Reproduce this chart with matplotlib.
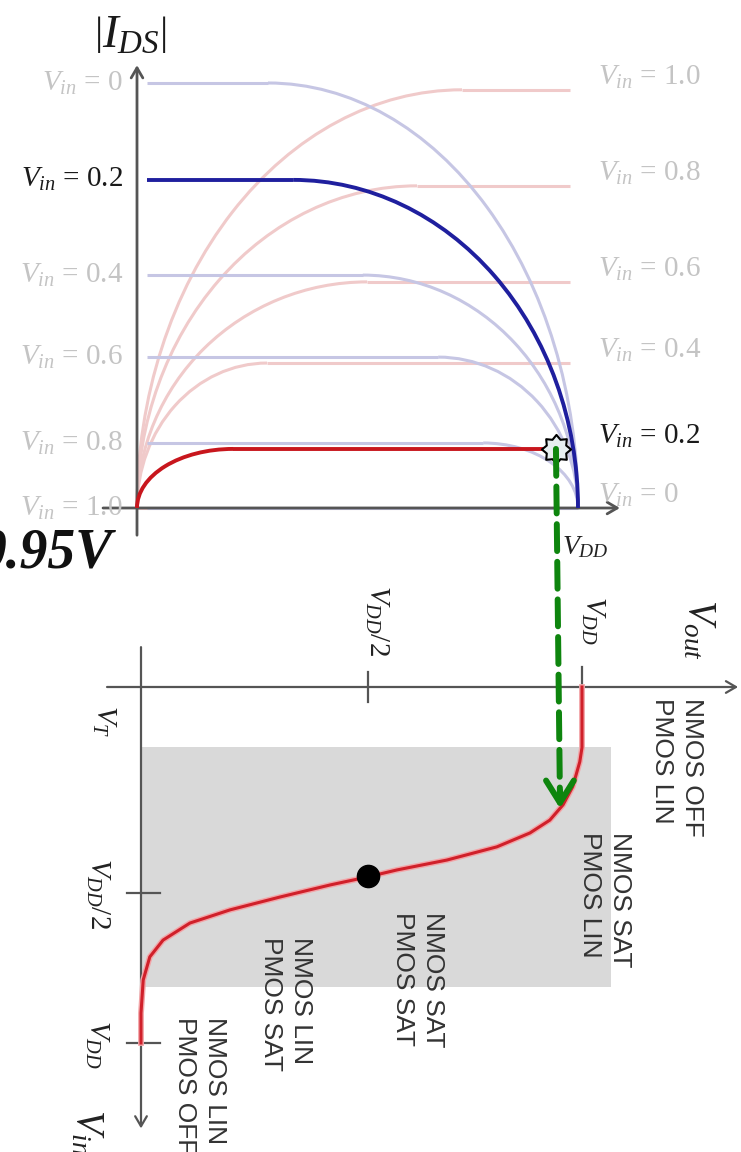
import numpy as np
import matplotlib
matplotlib.use("Agg")
import matplotlib.pyplot as plt
from matplotlib.patches import Arc, Rectangle, ConnectionPatch
from matplotlib.path import Path

plt.rcParams['mathtext.fontset'] = 'custom'
plt.rcParams['mathtext.rm'] = 'Liberation Serif'
plt.rcParams['mathtext.it'] = 'Liberation Serif:italic'
plt.rcParams['mathtext.bf'] = 'Liberation Serif:bold'

# ---- I-V families (VDD = 1, currents normalised) ----
pmos_vin = [0.0, 0.2, 0.4, 0.6, 0.8, 1.0]
pmos_isat = [1.0, 0.772, 0.548, 0.355, 0.153, 0.0]
pmos_vov = [0.703, 0.646, 0.488, 0.317, 0.215, 0.0]

nmos_vin = [1.0, 0.8, 0.6, 0.4, 0.2, 0.0]
nmos_isat = [0.984, 0.758, 0.532, 0.341, 0.139, 0.0]
nmos_vov = [0.737, 0.635, 0.522, 0.295, 0.218, 0.0]

vin_highlight = 0.2
vout_op = 0.95

# ---- inverter transfer curve ----
vtc_vin = [0.00, 0.10, 0.17, 0.21, 0.28, 0.331, 0.374, 0.410, 0.449, 0.486,
           0.514, 0.534, 0.556, 0.590, 0.626, 0.663, 0.711, 0.758, 0.823,
           0.916, 1.00]
vtc_vout = [1.00, 1.00, 1.00, 0.995, 0.979, 0.957, 0.927, 0.882, 0.807, 0.694,
            0.580, 0.512, 0.429, 0.315, 0.202, 0.111, 0.050, 0.020, 0.005,
            0.0, 0.0]
switch_vin = 0.531

vin_ticks = [0.169, 0.579, 1.0]
vin_tick_labels = [r'$V_T$', r'$V_{DD}/2$', r'$V_{DD}$']
vout_ticks = [0.515, 1.0]
vout_tick_labels = [r'$V_{DD}/2$', r'$V_{DD}$']
shade_vin = (0.169, 0.843)
shade_vout = (0.0, 1.066)
region_labels = ['NMOS OFF\nPMOS LIN', 'NMOS SAT\nPMOS LIN', 'NMOS SAT\nPMOS SAT',
                 'NMOS LIN\nPMOS SAT', 'NMOS LIN\nPMOS OFF']

LIGHT_BLUE = '#c6c6e4'
LIGHT_RED = '#f0caca'
DARK_BLUE = '#1f1f9e'
DARK_RED = '#c8161d'
AXIS = '#555555'
FAINT_TXT = '#c4c4c4'
GREEN = '#0e850e'

fig = plt.figure(figsize=(7.41, 11.52), dpi=100)
ax1 = fig.add_axes([0, 592 / 1152, 1, 560 / 1152])
ax2 = fig.add_axes([0, 0, 1, 592 / 1152])
ax1.set_xlim(-137 / 441, 604 / 441)
ax1.set_ylim(-52 / 425, 508 / 425)
ax2.set_xlim(-141 / 441, 600 / 441)
ax2.set_ylim(465 / 356, -127 / 356)
for a in (ax1, ax2):
    a.axis('off')


def fmt(v):
    return '0' if v == 0 else f'{v:.1f}'


# ---------- top: |IDS| vs Vout ----------
def pmos_curve(ax, isat, vov, color, lw, z):
    if isat == 0:
        ax.plot([0.023, 1.0], [0, 0], color=color, lw=lw, zorder=z,
                solid_capstyle='butt')
        return
    ax.plot([0.023, 1 - vov], [isat, isat], color=color, lw=lw, zorder=z,
            solid_capstyle='butt')
    ax.add_patch(Arc((1 - vov, 0), 2 * vov, 2 * isat, theta1=0, theta2=90,
                     color=color, lw=lw, zorder=z))


def nmos_curve(ax, isat, vov, xend, color, lw, z):
    if isat == 0:
        ax.plot([0, xend], [0, 0], color=color, lw=lw, zorder=z,
                solid_capstyle='butt')
        return
    ax.add_patch(Arc((vov, 0), 2 * vov, 2 * isat, theta1=90, theta2=180,
                     color=color, lw=lw, zorder=z))
    ax.plot([vov, xend], [isat, isat], color=color, lw=lw, zorder=z,
            solid_capstyle='butt')


for v, i, w in zip(nmos_vin, nmos_isat, nmos_vov):
    if v != vin_highlight:
        nmos_curve(ax1, i, w, 0.982, LIGHT_RED, 2.2, 2)
for v, i, w in zip(pmos_vin, pmos_isat, pmos_vov):
    if v != vin_highlight:
        pmos_curve(ax1, i, w, LIGHT_BLUE, 2.2, 2)

i_hi_n = nmos_isat[nmos_vin.index(vin_highlight)]
nmos_curve(ax1, i_hi_n, nmos_vov[nmos_vin.index(vin_highlight)], vout_op,
           DARK_RED, 2.8, 4)
pmos_curve(ax1, pmos_isat[pmos_vin.index(vin_highlight)],
           pmos_vov[pmos_vin.index(vin_highlight)], DARK_BLUE, 2.8, 4)

# axes with arrows
ax1.annotate('', xy=(0, 1.042), xytext=(0, -0.064),
             arrowprops=dict(arrowstyle='->,head_length=0.6,head_width=0.35',
                             color=AXIS, lw=2, shrinkA=0, shrinkB=0,
                             mutation_scale=12), zorder=3)
ax1.annotate('', xy=(1.095, 0), xytext=(-0.077, 0),
             arrowprops=dict(arrowstyle='->,head_length=0.6,head_width=0.35',
                             color=AXIS, lw=2, shrinkA=0, shrinkB=0,
                             mutation_scale=12), zorder=3)

# curve labels
for v, i in zip(pmos_vin, pmos_isat):
    c = '#1a1a1a' if v == vin_highlight else FAINT_TXT
    ax1.text(-0.032, i, rf'$V_{{in}}$ = {fmt(v)}', ha='right', va='center',
             fontsize=21, color=c, family='Liberation Serif')
for v, i in zip(nmos_vin, nmos_isat):
    c = '#1a1a1a' if v == vin_highlight else FAINT_TXT
    ax1.text(1.045, i + 0.03, rf'$V_{{in}}$ = {fmt(v)}', ha='left', va='center',
             fontsize=21, color=c, family='Liberation Serif')

ax1.text(-0.016, 1.113, r'$\left|I_{DS}\right|$', ha='center', va='center',
         fontsize=34, color='#1a1a1a')
ax1.text(1.016, -0.089, r'$V_{DD}$', ha='center', va='center', fontsize=20,
         color='#222222')
ax1.text(-0.057, -0.106, '0.95V', ha='right', va='center', fontsize=40,
         family='Liberation Serif', weight='bold', style='italic',
         color='#111111', clip_on=False)

# operating point
star = Path.unit_regular_star(8, 0.72)
ax1.plot([vout_op], [i_hi_n], marker=star, ms=21, mfc='#e6eef0', mec='black',
         mew=1.5, zorder=6)

# ---------- bottom: transfer characteristic ----------
ax2.add_patch(Rectangle((shade_vout[0], shade_vin[0]),
                        shade_vout[1] - shade_vout[0], shade_vin[1] - shade_vin[0],
                        facecolor='#d9d9d9', edgecolor='none', zorder=0))

ax2.annotate('', xy=(1.354, 0), xytext=(-0.077, 0),
             arrowprops=dict(arrowstyle='->,head_length=0.6,head_width=0.35',
                             color=AXIS, lw=1.6, shrinkA=0, shrinkB=0,
                             mutation_scale=12), zorder=3)
ax2.annotate('', xy=(0, 1.24), xytext=(0, -0.112),
             arrowprops=dict(arrowstyle='->,head_length=0.6,head_width=0.35',
                             color=AXIS, lw=1.6, shrinkA=0, shrinkB=0,
                             mutation_scale=12), zorder=3)

# ticks
for t in vin_ticks[1:]:
    ax2.plot([-0.032, 0.043], [t, t], color=AXIS, lw=1.6, zorder=3)
ax2.plot([vout_ticks[0]] * 2, [-0.042, 0.042], color=AXIS, lw=1.6, zorder=3)
ax2.plot([vout_ticks[1]] * 2, [-0.056, 0.0], color=AXIS, lw=1.6, zorder=3)

# tick labels
vin_offsets = [(-27, 7, 'bottom'), (-31, 0, 'center'), (-32, -1, 'center')]
for t, lab, (dx, dy, va) in zip(vin_ticks, vin_tick_labels, vin_offsets):
    ax2.annotate(lab, xy=(0, t), xytext=(dx, dy), textcoords='offset points',
                 rotation=-90, ha='center', va=va, fontsize=21, color='#222222')
vout_offsets = [(6.5, 48), (8, 48)]
for t, lab, (dx, dy) in zip(vout_ticks, vout_tick_labels, vout_offsets):
    ax2.annotate(lab, xy=(t, 0), xytext=(dx, dy), textcoords='offset points',
                 rotation=-90, ha='center', va='center', fontsize=21,
                 color='#222222')

ax2.text(1.268, -0.16, r'$V_{out}$', rotation=-90, ha='center', va='center',
         fontsize=28, color='#222222')
ax2.text(-0.12, 1.25, r'$V_{in}$', rotation=-90, ha='center', va='center',
         fontsize=28, color='#222222', clip_on=False)

# transfer curve and switching point
ax2.plot(vtc_vout, vtc_vin, color='#f2a5a8', lw=4.2, zorder=4,
         solid_joinstyle='round')
ax2.plot(vtc_vout, vtc_vin, color='#d0202a', lw=2.2, zorder=5,
         solid_joinstyle='round')
ax2.plot([vout_ticks[0]], [switch_vin], 'o', ms=16, color='black', zorder=6)

# operating-region annotations
region_pos = [(1.215, 0.031), (1.052, 0.407), (0.628, 0.632),
              (0.329, 0.702), (0.134, 0.927)]
for lab, (x, y) in zip(region_labels, region_pos):
    ax2.text(x, y, lab, rotation=-90, ha='center', va='top',
             multialignment='left', fontsize=19, color='#333333',
             family='Liberation Sans', linespacing=1.32)

# projection from the operating point onto the transfer curve
vin_tip = np.interp(vout_op, vtc_vout[::-1], vtc_vin[::-1])
con = ConnectionPatch(xyA=(vout_op, i_hi_n), coordsA=ax1.transData,
                      xyB=(vout_op, vin_tip - 0.03), coordsB=ax2.transData,
                      color=GREEN, lw=4.3, linestyle=(0, (4.5, 1.8)),
                      zorder=8)
fig.add_artist(con)
ax2.annotate('', xy=(vout_op, vin_tip), xytext=(vout_op, vin_tip - 0.05),
             arrowprops=dict(arrowstyle='->,head_length=1.6,head_width=1.0',
                             color=GREEN, lw=4.3, shrinkA=0, shrinkB=0,
                             mutation_scale=10), zorder=8)

fig.savefig('out.png', dpi=100)
